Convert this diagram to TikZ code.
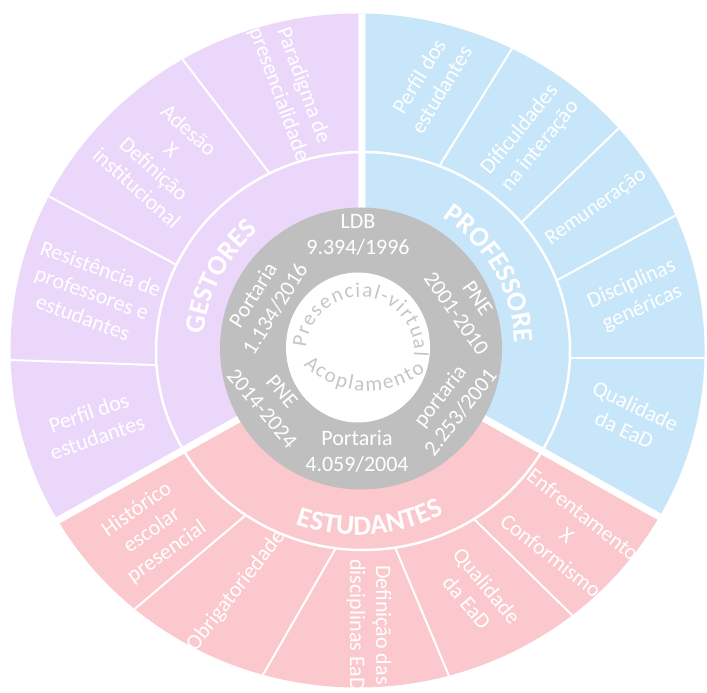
\documentclass[tikz,border=0pt]{standalone}
\usepackage{fontspec}
\setmainfont{Carlito}
\usetikzlibrary{calc,decorations.text}

\definecolor{gestcol}{HTML}{EBD7FA}
\definecolor{profcol}{HTML}{C8E6FA}
\definecolor{estucol}{HTML}{FAC8CD}
\definecolor{corecol}{HTML}{BFBFBF}
\definecolor{hubtext}{HTML}{C6C6C6}

% the three coloured sectors, bounded by the outer rim (ellipse around O)
\newcommand\drawsectors{%
  \fill[gestcol] (M) -- ($(O)+(89.26:347 and 337)$)
    arc[start angle=89.26, end angle=210.27, x radius=347, y radius=337] -- cycle;
  \fill[estucol] (M) -- ($(O)+(210.27:347 and 337)$)
    arc[start angle=210.27, end angle=330.45, x radius=347, y radius=337] -- cycle;
  \fill[profcol] (M) -- ($(O)+(330.45:347 and 337)$)
    arc[start angle=330.45, end angle=449.26, x radius=347, y radius=337] -- cycle;
}

\begin{document}
\begin{tikzpicture}[x=1pt,y=1pt,
  seglabel/.style={text=white, align=center, inner sep=0pt, font=\fontsize{22}{26}\selectfont},
  thinsep/.style={draw=white, line width=2pt},
  mainsep/.style={draw=white, line width=7pt},
  ringline/.style={draw=white, line width=2.5pt}]

\useasboundingbox (0,0) rectangle (707,693);
\fill[white] (0,0) rectangle (707,693);

% centres
\coordinate (O) at (357.5,342.5);  % outer rim
\coordinate (R) at (363,342);      % boundary of the category ring
\coordinate (M) at (362,343);      % meeting point of the main dividers
\coordinate (C) at (358,343);      % centre for the curved titles

% outer ring
\drawsectors

% dividers of the outer ring: inner end / outer end
\coordinate (d1i) at (267,523); \coordinate (d1o) at (183,633);
\coordinate (d2i) at (173,430); \coordinate (d2o) at (50,496);
\coordinate (d3i) at (153,328); \coordinate (d3o) at (10,333);
\coordinate (d4i) at (443,533); \coordinate (d4o) at (513,646);
\coordinate (d5i) at (527,476); \coordinate (d5o) at (620,566);
\coordinate (d6i) at (563,416); \coordinate (d6o) at (680,480);
\coordinate (d7i) at (573,335); \coordinate (d7o) at (707,335);
\coordinate (d8i) at (240,173); \coordinate (d8o) at (137,86);
\coordinate (d9i) at (333,140); \coordinate (d9o) at (260,13);
\coordinate (d10i) at (397,141); \coordinate (d10o) at (452,10);
\coordinate (d11i) at (477,171); \coordinate (d11o) at (577,73);
\begin{scope}
  \clip (O) ellipse [x radius=347, y radius=337];
  \foreach \k in {1,...,11}
    \draw[thinsep] ($(d\k i)!-0.2!(d\k o)$) -- ($(d\k i)!1.3!(d\k o)$);
\end{scope}

% category ring
\begin{scope}
  \clip (R) ellipse [x radius=207, y radius=199];
  \drawsectors
\end{scope}
\draw[ringline] (R) ellipse [x radius=207, y radius=199];

% main dividers between the three categories
\draw[mainsep] (M) -- ($(O)+(89.26:347 and 337)$);
\draw[mainsep] (M) -- ($(O)+(210.27:347 and 337)$);
\draw[mainsep] (M) -- ($(O)+(330.45:347 and 337)$);

% core
\fill[corecol] (361,344.5) circle [radius=141];
\fill[white] (358,345.5) ellipse [x radius=72, y radius=75];

% legal milestones on the grey ring
\node[seglabel] (g1) at (358,458) {LDB\\9.394/1996};
\node[seglabel, rotate=-55] (g2) at (467,387) {PNE\\2001-2010};
\node[seglabel, rotate=52] (g3) at (450,289) {portaria\\2.253/2001};
\node[seglabel] (g4) at (357,242) {Portaria\\4.059/2004};
\node[seglabel, rotate=-50] (g5) at (272,293) {PNE\\2014-2024};
\node[seglabel, rotate=58] (g6) at (264,391) {Portaria\\1.134/2016};

% hub words
\path[decorate, decoration={text along path, text align=fit to path, text color=hubtext,
  text={|\fontsize{21}{21}\selectfont|Presencial-virtual}}]
  ($(360,342)+(176:54)$) arc[start angle=176, end angle=-5.5, radius=54];
\path[decorate, decoration={text along path, text align=fit to path, text color=hubtext,
  text={|\fontsize{21}{21}\selectfont|Acoplamento}}]
  ($(368,395)+(226:93)$) arc[start angle=226, end angle=308, radius=93];

% category titles
\path[decorate, decoration={text along path, text align=center, text color=white,
  text={|\fontsize{28}{28}\selectfont\bfseries|GESTORES}}]
  ($(C)+(192:155)$) arc[start angle=192, end angle=112, radius=155];
\path[decorate, decoration={text along path, text align=center, text color=white,
  text={|\fontsize{28}{28}\selectfont\bfseries|PROFESSORE}}]
  ($(C)+(78:157)$) arc[start angle=78, end angle=-18, radius=157];
\path[decorate, decoration={text along path, text align=center, text color=white,
  text={|\fontsize{28}{28}\selectfont\bfseries|ESTUDANTES}}]
  ($(C)+(232:185)$) arc[start angle=232, end angle=316, radius=185];

% GESTORES items
\node[seglabel, rotate=-70] (o1) at (291,603) {Paradigma de\\presencialidade};
\node[seglabel, rotate=-42] (o2) at (163,534) {Adesão\\X\\Definição\\institucional};
\node[seglabel, rotate=-20] (o3) at (92,400) {Resistência de\\professores e\\estudantes};
\node[seglabel, rotate=19] (o4) at (93,268) {Perfil dos\\estudantes};

% PROFESSORE items
\node[seglabel, rotate=59] (o5) at (430,610) {Perfil dos\\estudantes};
\node[seglabel, rotate=51] (o6) at (530,555) {Dificuldades\\na interação};
\node[seglabel, rotate=35, font=\fontsize{21}{25}\selectfont] (o7) at (596,486) {Remuneração};
\node[seglabel, rotate=24] (o8) at (637,397) {Disciplinas\\genéricas};
\node[seglabel, rotate=-25] (o9) at (630,275) {Qualidade\\da EaD};

% ESTUDANTES items
\node[seglabel, rotate=35] (o10) at (152,162) {Histórico\\escolar\\presencial};
\node[seglabel, rotate=52] (o11) at (236,102) {Obrigatoriedade};
\node[seglabel, rotate=-90] (o12) at (369,68) {Definição das\\disciplinas EaD};
\node[seglabel, rotate=-50] (o13) at (477,99) {Qualidade\\da EaD};
\node[seglabel, rotate=-38] (o14) at (567,158) {Enfrentamento\\X\\Conformismo};
\end{tikzpicture}
\end{document}
